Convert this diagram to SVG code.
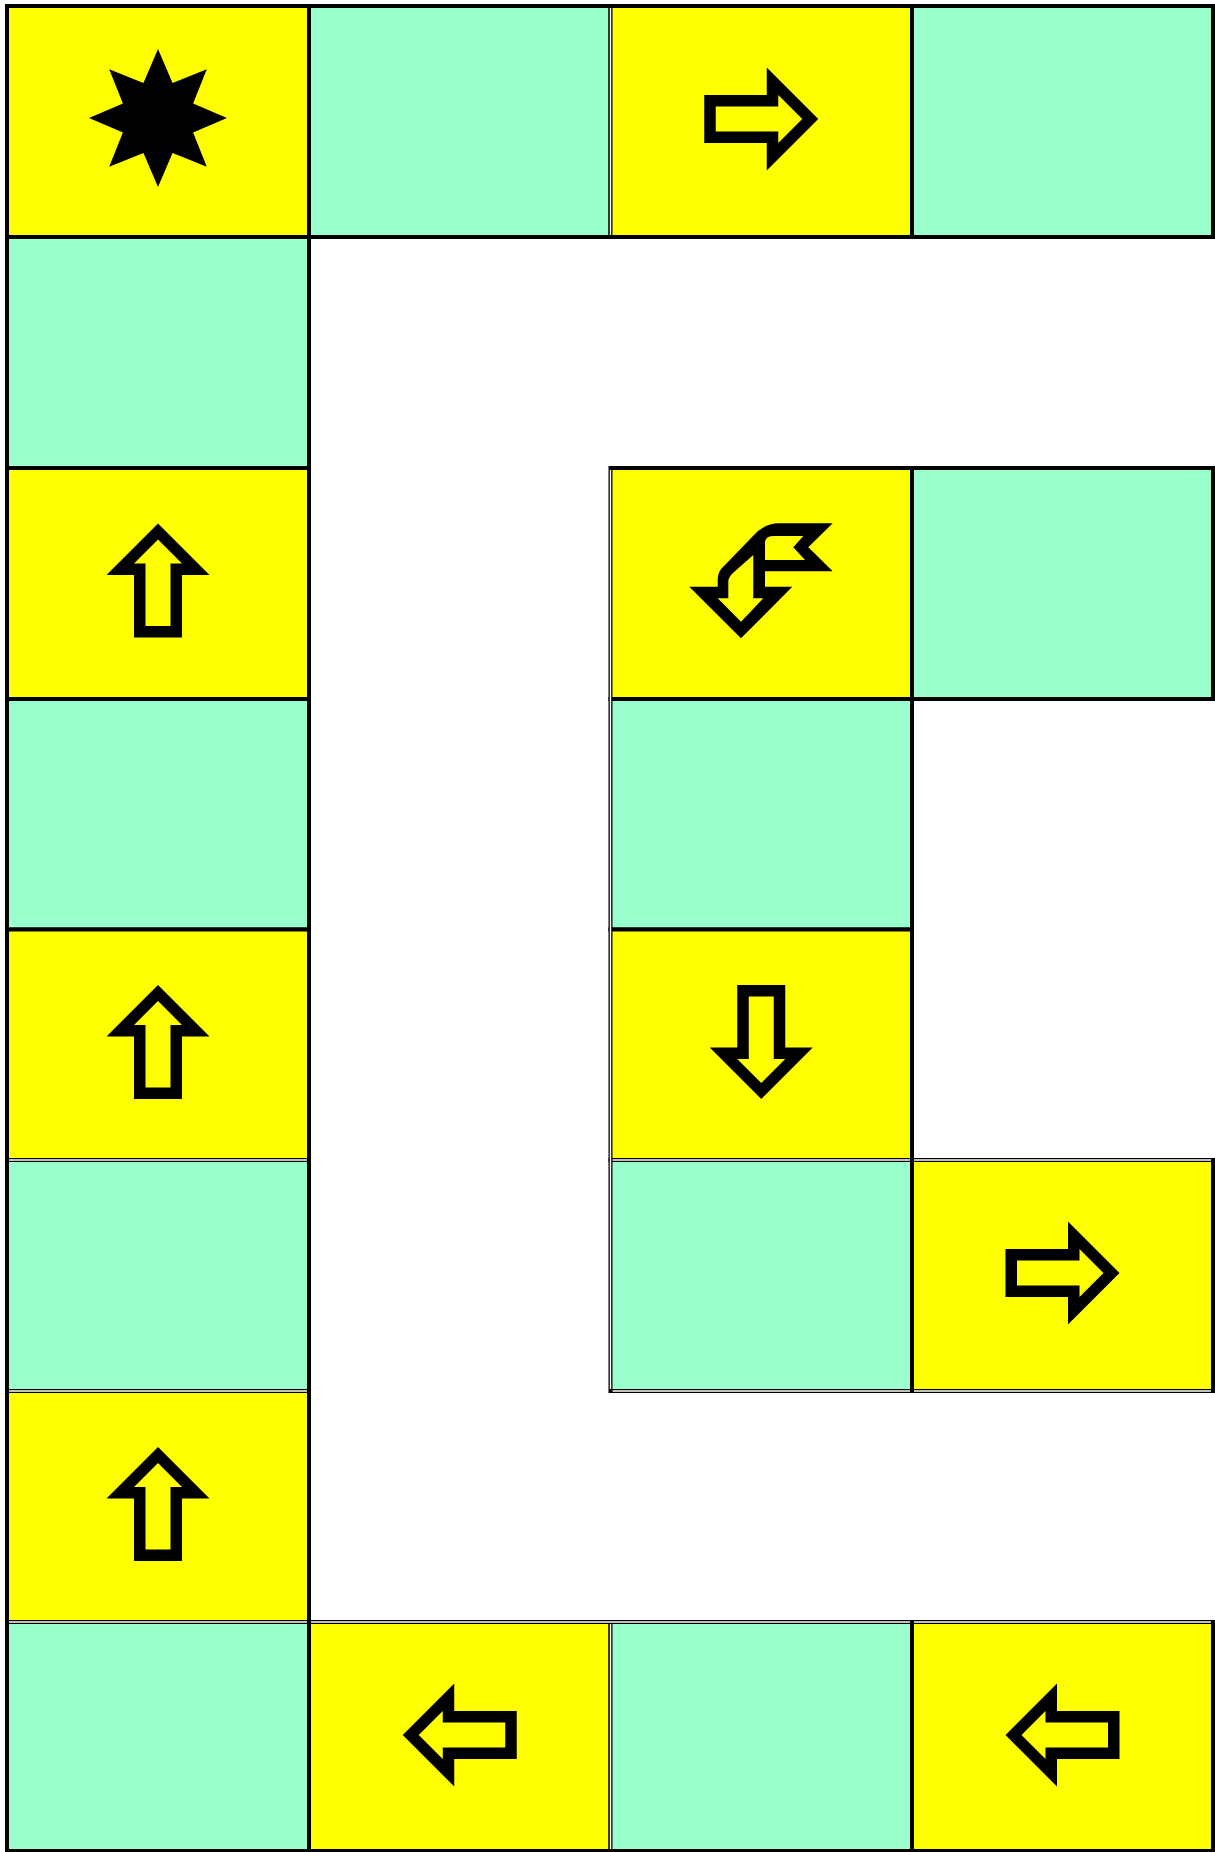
<svg xmlns="http://www.w3.org/2000/svg" xmlns:xlink="http://www.w3.org/1999/xlink" width="1215" height="1852" viewBox="0 0 1215 1852">
<style>
.y{fill:#FFFF00;stroke:#000;stroke-width:4}
.g{fill:#99FFCC;stroke:#000;stroke-width:4}
.ic{fill:#000;fill-rule:evenodd}
.dbl{stroke:#fff;stroke-width:1.4;fill:none}
</style>
<defs>
<path id="arrow" class="ic" d="M57,0 L5.5,-51.5 L5.5,-24 L-57,-24 L-57,24 L5.5,24 L5.5,51.5 Z M41,0 L17,-24 L17,-12.5 L-45.5,-12.5 L-45.5,12.5 L17,12.5 L17,24 Z"/>
</defs>
<rect width="1215" height="1852" fill="#fff"/>
<g id="cells">
<g id="r0c0"><rect class="y" x="7" y="6" width="302" height="231"/>
<polygon class="ic" points="158,49 172.54,82.89 206.79,69.21 193.11,103.46 227,118 193.11,132.54 206.79,166.79 172.54,153.11 158,187 143.46,153.11 109.21,166.79 122.89,132.54 89,118 122.89,103.46 109.21,69.21 143.46,82.89"/></g>
<g id="r0c1"><rect class="g" x="309" y="6" width="301.5" height="231"/></g>
<g id="r0c2"><rect class="y" x="610.5" y="6" width="301.5" height="231"/><use xlink:href="#arrow" href="#arrow" transform="translate(761.25,119)"/></g>
<g id="r0c3"><rect class="g" x="912" y="6" width="301" height="231"/></g>
<g id="r1c0"><rect class="g" x="7" y="237" width="302" height="231"/></g>
<g id="r2c0"><rect class="y" x="7" y="468" width="302" height="231"/><use xlink:href="#arrow" href="#arrow" transform="translate(158,580.5) rotate(-90)"/></g>
<g id="r2c2"><rect class="y" x="610.5" y="468" width="301.5" height="231"/>
<path class="ic" d="M741,638.3 L689.3,586.7 L717.7,586.7 L717.7,579 Q717.7,571.5 724.5,565.5 L753,536 Q764,523.3 779,523.3 L832.7,523.3 L808.3,547.3 L832.7,571.3 L765,571.3 L765,586.7 L792.3,586.7 Z M717.7,598.3 L728.3,598.3 L728.3,582 Q728.3,577 733.5,572.5 L753.3,555 L753.3,598.3 L763.3,598.3 L741,621.7 Z M765,543 Q765,536 773,536 L803.3,536 L793.3,547.3 L805,560 L765,560 Z"/></g>
<g id="r2c3"><rect class="g" x="912" y="468" width="301" height="231"/></g>
<g id="r3c0"><rect class="g" x="7" y="699" width="302" height="230.5"/></g>
<g id="r3c2"><rect class="g" x="610.5" y="699" width="301.5" height="230.5"/></g>
<g id="r4c0"><rect class="y" x="7" y="929.5" width="302" height="230.5"/><use xlink:href="#arrow" href="#arrow" transform="translate(158,1042) rotate(-90)"/></g>
<g id="r4c2"><rect class="y" x="610.5" y="929.5" width="301.5" height="230.5"/><use xlink:href="#arrow" href="#arrow" transform="translate(761.25,1042) rotate(90)"/></g>
<g id="r5c0"><rect class="g" x="7" y="1160" width="302" height="231"/></g>
<g id="r5c2"><rect class="g" x="610.5" y="1160" width="301.5" height="231"/></g>
<g id="r5c3"><rect class="y" x="912" y="1160" width="301" height="231"/><use xlink:href="#arrow" href="#arrow" transform="translate(1062.5,1273)"/></g>
<g id="r6c0"><rect class="y" x="7" y="1391" width="302" height="231"/><use xlink:href="#arrow" href="#arrow" transform="translate(158,1504) rotate(-90)"/></g>
<g id="r7c0"><rect class="g" x="7" y="1622" width="302" height="229"/></g>
<g id="r7c1"><rect class="y" x="309" y="1622" width="301.5" height="229"/><use xlink:href="#arrow" href="#arrow" transform="translate(459.75,1735) rotate(180)"/></g>
<g id="r7c2"><rect class="g" x="610.5" y="1622" width="301.5" height="229"/></g>
<g id="r7c3"><rect class="y" x="912" y="1622" width="301" height="229"/><use xlink:href="#arrow" href="#arrow" transform="translate(1062.5,1735) rotate(180)"/></g>
</g>
<g id="double-rules">
<path class="dbl" d="M610.5,8 V235 M610.5,470 V1389 M610.5,1624 V1849 M9,1160 H307 M612.5,1160 H910 M914,1160 H1211 M9,1391 H307 M612.5,1391 H910 M914,1391 H1211 M9,1622 H307 M311,1622 H910 M914,1622 H1211"/>
</g>
</svg>
